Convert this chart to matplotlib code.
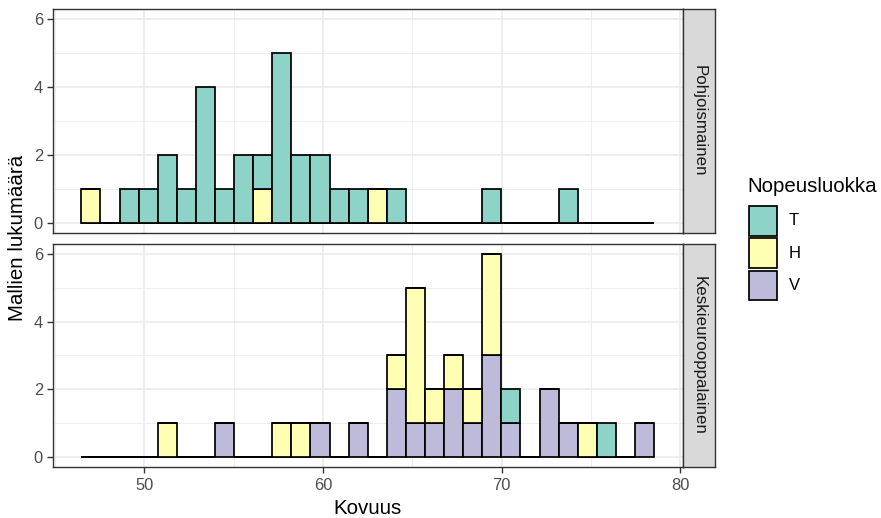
import numpy as np
import matplotlib
matplotlib.use("Agg")
import matplotlib.pyplot as plt
from matplotlib.patches import Rectangle

plt.rcParams['font.family'] = ['Liberation Sans', 'DejaVu Sans']

# ---- data ----
x_min, x_max, n_bins = 47.0, 78.0, 30
classes = ["T", "H", "V"]
colors = {"T": "#8DD3C7", "H": "#FFFFB3", "V": "#BEBADA"}
facets = ["Pohjoismainen", "Keskieurooppalainen"]

# counts per bin (30 bins) for each speed class
north_T = [0, 0, 1, 1, 2, 1, 4, 1, 2, 1, 5, 2, 2, 1, 1, 0, 1, 0, 0, 0, 0, 1, 0, 0, 0, 1, 0, 0, 0, 0]
north_H = [1, 0, 0, 0, 0, 0, 0, 0, 0, 1, 0, 0, 0, 0, 0, 1, 0, 0, 0, 0, 0, 0, 0, 0, 0, 0, 0, 0, 0, 0]
north_V = [0] * 30
central_T = [0, 0, 0, 0, 0, 0, 0, 0, 0, 0, 0, 0, 0, 0, 0, 0, 0, 0, 0, 0, 0, 0, 1, 0, 0, 0, 0, 1, 0, 0]
central_H = [0, 0, 0, 0, 1, 0, 0, 0, 0, 0, 1, 1, 0, 0, 0, 0, 1, 4, 1, 1, 1, 3, 0, 0, 0, 0, 1, 0, 0, 0]
central_V = [0, 0, 0, 0, 0, 0, 0, 1, 0, 0, 0, 0, 1, 0, 1, 0, 2, 1, 1, 2, 1, 3, 1, 0, 2, 1, 0, 0, 0, 1]

data = {
    "Pohjoismainen": {"T": north_T, "H": north_H, "V": north_V},
    "Keskieurooppalainen": {"T": central_T, "H": central_H, "V": central_V},
}

x_ticks = [50, 60, 70, 80]
y_ticks = [0, 2, 4, 6]

# ---- bins (ggplot default: width = range/(bins-1), centred on data ends) ----
width = (x_max - x_min) / (n_bins - 1)
centers = x_min + width * np.arange(n_bins)
lo, hi = centers[0] - width / 2, centers[-1] + width / 2
pad = (hi - lo) * 0.05

W, H = 881, 518
fig = plt.figure(figsize=(W / 100, H / 100), dpi=100)

def fr(x0, y0, x1, y1):
    return [x0 / W, 1 - y1 / H, (x1 - x0) / W, (y1 - y0) / H]

panels = [(9.3, 232.7), (244.0, 466.7)]
px0, px1 = 52.7, 682.7
sx1 = 715.3
grid_c = "#EBEBEB"
border_c = "#333333"

for i, (facet, (t, b)) in enumerate(zip(facets, panels)):
    ax = fig.add_axes(fr(px0, t, px1, b))
    ax.set_xlim(lo - pad, hi + pad)
    ax.set_ylim(-0.3, 6.3)
    for v in [1, 3, 5]:
        ax.axhline(v, color=grid_c, lw=0.6, zorder=0)
    for v in [45, 55, 65, 75]:
        ax.axvline(v, color=grid_c, lw=0.6, zorder=0)
    for v in y_ticks:
        ax.axhline(v, color=grid_c, lw=1.2, zorder=0)
    for v in x_ticks:
        ax.axvline(v, color=grid_c, lw=1.2, zorder=0)
    d = data[facet]
    bottom = np.zeros(n_bins)
    for c in ["V", "H", "T"]:
        vals = np.array(d[c], dtype=float)
        ax.bar(centers, vals, width=width, bottom=bottom, color=colors[c],
               edgecolor="black", linewidth=1.25, zorder=2)
        bottom += vals
    ax.set_yticks(y_ticks)
    ax.set_yticklabels([str(v) for v in y_ticks])
    ax.set_xticks(x_ticks)
    if i == 0:
        ax.tick_params(axis="x", length=0, labelbottom=False)
    else:
        ax.set_xticklabels([str(v) for v in x_ticks])
        ax.tick_params(axis="x", length=4, width=1.0, color=border_c, pad=4,
                       labelsize=11.9, labelcolor="#4D4D4D")
    ax.tick_params(axis="y", length=4, width=1.0, color=border_c, pad=3,
                   labelsize=11.9, labelcolor="#4D4D4D")
    for s in ax.spines.values():
        s.set_color(border_c)
        s.set_linewidth(1.0)
        s.set_zorder(5)
    # strip
    sax = fig.add_axes(fr(px1, t, sx1, b))
    sax.set_facecolor("#D9D9D9")
    sax.set_xticks([])
    sax.set_yticks([])
    for s in sax.spines.values():
        s.set_color(border_c)
        s.set_linewidth(1.0)
    sax.text(0.5, 0.5, facet, rotation=-90, ha="center", va="center",
             fontsize=12.2, color="#1A1A1A", transform=sax.transAxes)

# axis titles
fig.text((px0 + px1) / 2 / W, 1 - 508 / H, "Kovuus", ha="center", va="center",
         fontsize=14.8, color="black")
fig.text(18 / W, 1 - 238 / H, "Mallien lukumäärä", ha="center", va="center",
         rotation=90, fontsize=14.8, color="black")

# legend
fig.text(747 / W, 1 - 186 / H, "Nopeusluokka", ha="left", va="center",
         fontsize=14.8, color="black")
key_tops = [206, 238.3, 270.5]
for c, kt in zip(classes, key_tops):
    fig.patches.append(Rectangle((748.5 / W, 1 - (kt + 29.5) / H), 28.5 / W, 29.5 / H,
                                 transform=fig.transFigure, facecolor=colors[c],
                                 edgecolor="black", linewidth=1.25))
    fig.text(789 / W, 1 - (kt + 15) / H, c, ha="left", va="center",
             fontsize=12.0, color="black")

fig.savefig("out.png", dpi=100)
